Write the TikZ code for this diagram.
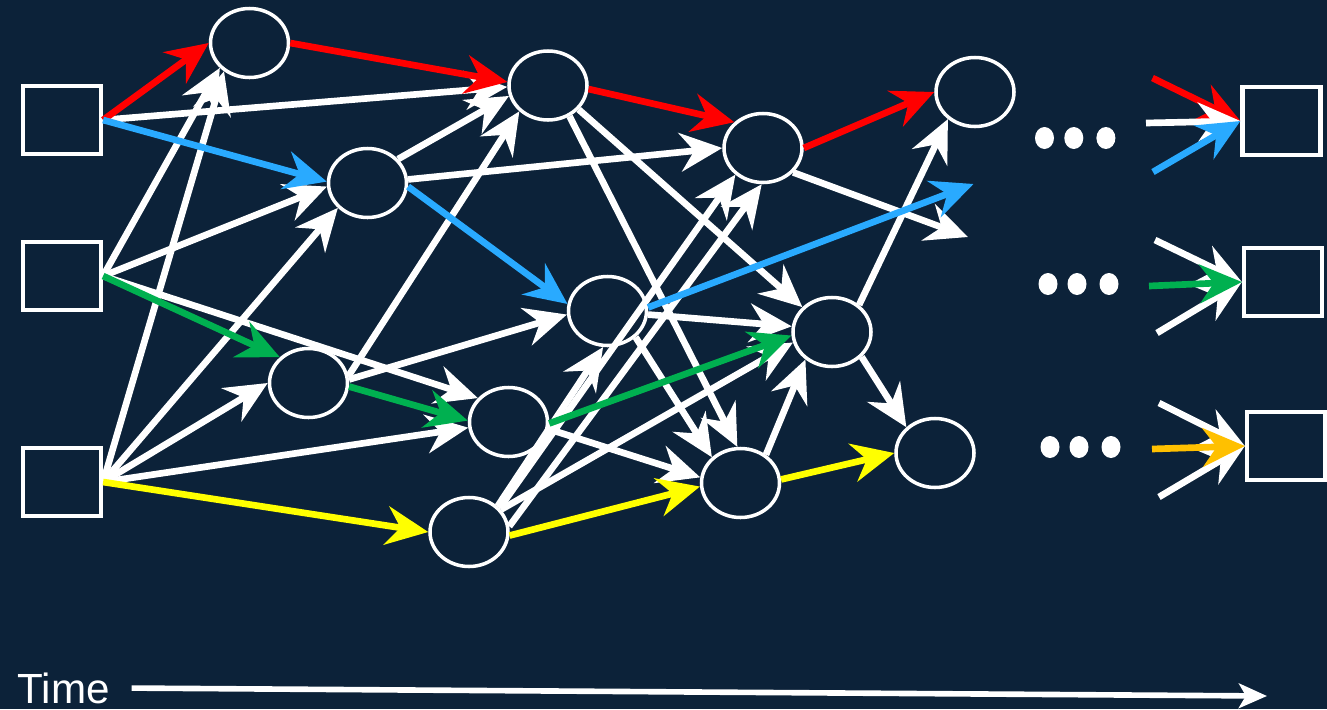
\documentclass[tikz,border=0pt]{standalone}
\usepackage{fontspec}
\setmainfont{Liberation Sans}
\usetikzlibrary{shapes.geometric, arrows.meta}

\definecolor{navybg}{RGB}{12,34,57}
\definecolor{pathred}{RGB}{255,0,0}
\definecolor{pathblue}{RGB}{41,170,255}
\definecolor{pathgreen}{RGB}{0,176,80}
\definecolor{pathyellow}{RGB}{255,255,0}
\definecolor{pathorange}{RGB}{255,192,0}

\begin{document}
\begin{tikzpicture}[
        hub/.style={ellipse, draw=white, line width=1pt, minimum width=0.78cm, minimum height=0.69cm, inner sep=0pt},
        term/.style={rectangle, draw=white, line width=1.2pt, minimum width=0.78cm, minimum height=0.68cm, inner sep=0pt},
        edge/.style={draw=white, line width=1.9pt, -{Stealth[length=12pt, width=11pt, inset=4pt]}},
        rededge/.style={edge, draw=pathred},
        blueedge/.style={edge, draw=pathblue},
        greenedge/.style={edge, draw=pathgreen},
        yellowedge/.style={edge, draw=pathyellow},
        orangeedge/.style={edge, draw=pathorange}
    ]

    % Background
    \useasboundingbox (0, 0) rectangle (13.27, 7.09);
    \fill[navybg] (0, 0) rectangle (13.27, 7.09);

    % Sources
    \node[term] (in1) at (0.62, 5.89) {};
    \node[term] (in2) at (0.62, 4.33) {};
    \node[term] (in3) at (0.62, 2.27) {};

    % Sinks
    \node[term] (out1) at (12.815, 5.88) {};
    \node[term] (out2) at (12.83, 4.27) {};
    \node[term] (out3) at (12.86, 2.63) {};

    % Intermediate nodes
    \node[hub] (v1) at (2.495, 6.66) {};
    \node[hub] (v2) at (5.48, 6.235) {};
    \node[hub] (v3) at (3.675, 5.26) {};
    \node[hub] (v4) at (7.63, 5.61) {};
    \node[hub] (v5) at (9.75, 6.17) {};
    \node[hub] (v6) at (6.075, 3.98) {};
    \node[hub] (v7) at (3.085, 3.26) {};
    \node[hub] (v8) at (5.085, 2.87) {};
    \node[hub] (v9) at (8.32, 3.77) {};
    \node[hub] (v10) at (4.69, 1.77) {};
    \node[hub] (v11) at (7.405, 2.26) {};
    \node[hub] (v12) at (9.35, 2.56) {};

    % Loose ends
    \coordinate (d1) at (9.68, 4.72);
    \coordinate (d2) at (9.735, 5.25);
    \coordinate (s1a) at (11.525, 6.31);
    \coordinate (s1b) at (11.46, 5.86);
    \coordinate (s1c) at (11.53, 5.37);
    \coordinate (s2a) at (11.55, 4.69);
    \coordinate (s2b) at (11.49, 4.23);
    \coordinate (s2c) at (11.57, 3.76);
    \coordinate (s3a) at (11.59, 3.06);
    \coordinate (s3b) at (11.52, 2.60);
    \coordinate (s3c) at (11.59, 2.12);

    % --- White links ---
    \draw[edge] (in1.east) -- (v2.182);
    \draw[edge] (in2.east) -- (v1.220);
    \draw[edge] (in2.east) -- (v3.185);
    \draw[edge] (in2.east) -- (v8.142);
    \draw[edge] (in3.east) -- (v1.228);
    \draw[edge] (in3.east) -- (v3.220);
    \draw[edge] (in3.east) -- (v7.180);
    \draw[edge] (in3.east) -- (v8.188);
    \draw[edge] (v3.38) -- (v2.195);
    \draw[edge] (v3.5) -- (v4.180);
    \draw[edge] (v7.10) -- (v2.222);
    \draw[edge] (v7.5) -- (v6.185);
    \draw[edge] (v2.322) -- (v9.140);
    \draw[edge] (v2.305) -- (v11.95);
    \draw[edge] (v4.321) -- (d1);
    \draw[edge] (v6.355) -- (v9.172);
    \draw[edge] (v6.317) -- (v11.138);
    \draw[edge] (v8.350) -- (v11.172);
    \draw[edge] (v10.42) -- (v6.263);
    \draw[edge] (v10.38) -- (v4.224);
    \draw[edge] (v10.8) -- (v4.268);
    \draw[edge] (v10.35) -- (v9.195);
    \draw[edge] (v11.48) -- (v9.226);
    \draw[edge] (v9.45) -- (v5.225);
    \draw[edge] (v9.320) -- (v12.138);

    % --- Coloured paths ---
    \draw[rededge] (in1.east) -- (v1.180);
    \draw[rededge] (v1.0) -- (v2.175);
    \draw[rededge] (v2.355) -- (v4.138);
    \draw[rededge] (v4.0) -- (v5.180);

    \draw[blueedge] (in1.east) -- (v3.178);
    \draw[blueedge] (v3.355) -- (v6.170);
    \draw[blueedge] (v6.5) -- (d2);

    \draw[greenedge] (in2.east) -- (v7.138);
    \draw[greenedge] (v7.355) -- (v8.178);
    \draw[greenedge] (v8.358) -- (v9.185);

    \draw[yellowedge] (in3.east) -- (v10.180);
    \draw[yellowedge] (v10.355) -- (v11.185);
    \draw[yellowedge] (v11.5) -- (v12.180);

    % --- Into the sinks ---
    \draw[rededge] (s1a) -- (out1.west);
    \draw[edge] (s1b) -- (out1.west);
    \draw[blueedge] (s1c) -- (out1.west);
    \draw[edge] (s2a) -- (out2.west);
    \draw[edge] (s2c) -- (out2.west);
    \draw[greenedge] (s2b) -- (out2.west);
    \draw[edge] (s3a) -- (out3.west);
    \draw[edge] (s3c) -- (out3.west);
    \draw[orangeedge] (s3b) -- (out3.west);

    % Dots
    \fill[white] (10.445, 5.71) ellipse (0.095 and 0.11);
    \fill[white] (10.738, 5.71) ellipse (0.095 and 0.11);
    \fill[white] (11.059, 5.71) ellipse (0.095 and 0.11);
    \fill[white] (10.48, 4.25) ellipse (0.095 and 0.11);
    \fill[white] (10.77, 4.25) ellipse (0.095 and 0.11);
    \fill[white] (11.09, 4.25) ellipse (0.095 and 0.11);
    \fill[white] (10.50, 2.62) ellipse (0.095 and 0.11);
    \fill[white] (10.79, 2.62) ellipse (0.095 and 0.11);
    \fill[white] (11.11, 2.62) ellipse (0.095 and 0.11);

    % Time axis
    \node[anchor=base west, inner sep=0pt, text=white, font=\fontsize{12pt}{14pt}\selectfont] (time) at (0.17, 0.06) {Time};
    \coordinate (timeend) at (12.67, 0.13);
    \draw[white, line width=1.6pt, shorten <=6pt, -{Stealth[length=8pt, width=7pt, inset=2pt]}] (time.east) -- (timeend);
\end{tikzpicture}
\end{document}
